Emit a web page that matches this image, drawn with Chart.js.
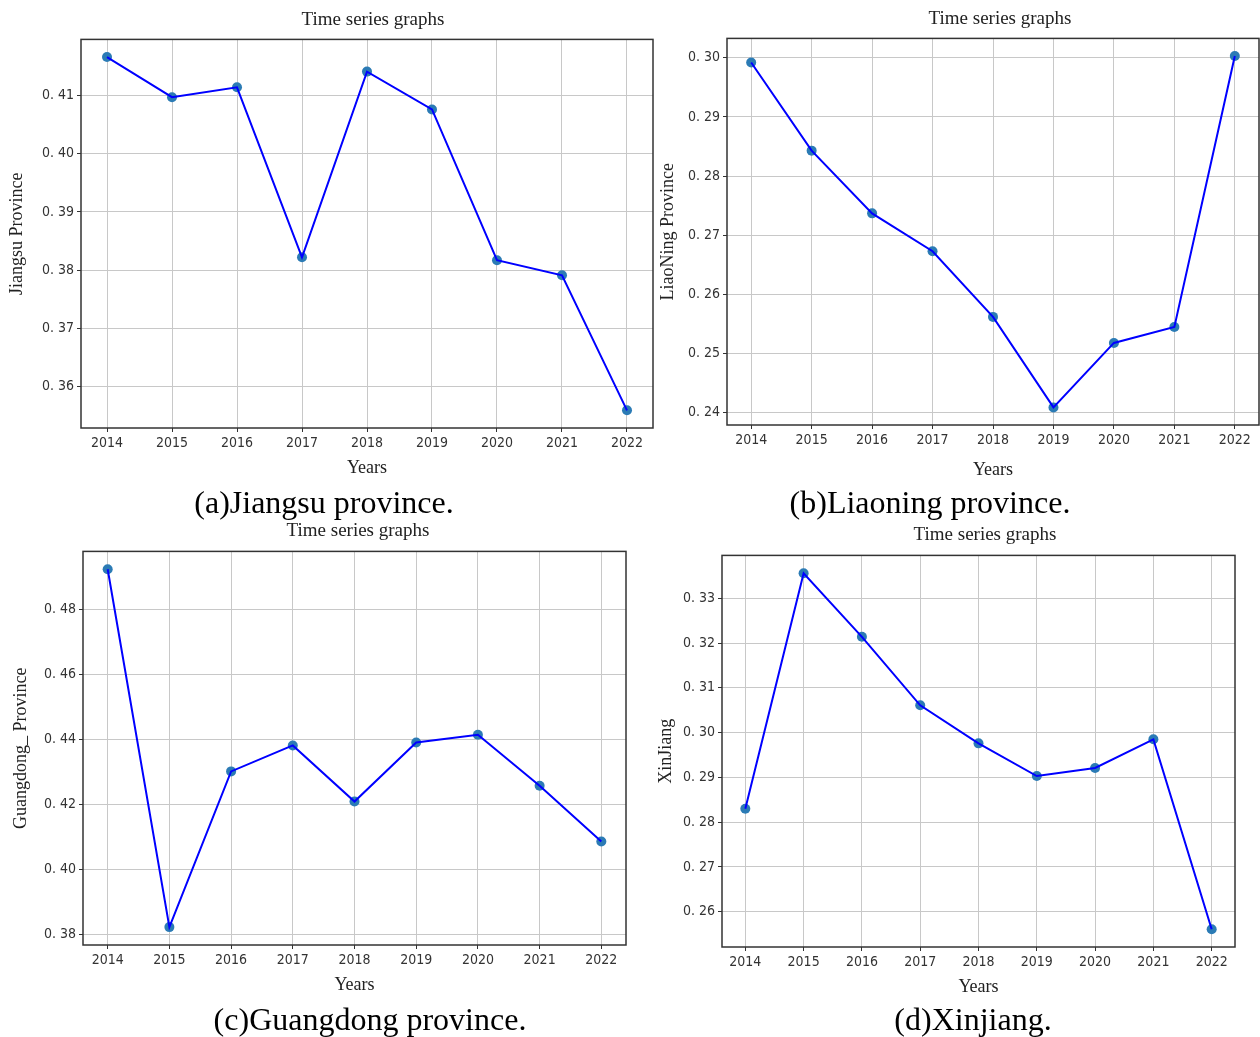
<!DOCTYPE html>
<html>
<head>
<meta charset="utf-8">
<script src="https://cdn.jsdelivr.net/npm/chart.js@4.4.0/dist/chart.umd.min.js"></script>
<style>
  body { margin: 0; background: #fff; width: 1260px; height: 1037px; position: relative; overflow: hidden; }
  .box { position: absolute; }
  .label { position: absolute; transform: translate(-50%, -50%); white-space: nowrap; line-height: 1;
           font-family: 'Liberation Serif', 'Times New Roman', serif; }
  .title { font-size: 19px; color: #222; }
  .cap { font-size: 32px; color: #000; }
</style>
</head>
<body>
<script>
// ---- data ----
const years = [2014, 2015, 2016, 2017, 2018, 2019, 2020, 2021, 2022];
const jiangsu   = [0.4166, 0.4097, 0.4114, 0.3822, 0.4141, 0.4076, 0.3817, 0.3791, 0.3559];
const liaoning  = [0.2992, 0.2843, 0.2737, 0.2673, 0.2562, 0.2409, 0.2518, 0.2545, 0.3003];
const guangdong = [0.4925, 0.3822, 0.4302, 0.4382, 0.4209, 0.4391, 0.4415, 0.4258, 0.4086];
const xinjiang  = [0.2830, 0.3356, 0.3214, 0.3061, 0.2976, 0.2903, 0.2921, 0.2985, 0.2561];

const yLabels  = ['Jiangsu Province', 'LiaoNing Province', 'Guangdong_ Province', 'XinJiang'];
const captions = ['(a)Jiangsu province.', '(b)Liaoning province.', '(c)Guangdong province.', '(d)Xinjiang.'];
const series   = [jiangsu, liaoning, guangdong, xinjiang];
const ySteps   = [0.01, 0.01, 0.02, 0.01];

// ---- layout (plot box: left, top, right, bottom) ----
const layout = [
  { plot: [80.7, 38.3, 652.7, 428.3],  title: [373, 18],  cap: [324, 502],  yTitleX: 17,  xTitleGap: 40 },
  { plot: [726.7, 36.7, 1259, 424.3],  title: [1000, 17], cap: [930, 502],  yTitleX: 668, xTitleGap: 45 },
  { plot: [83.3, 550, 626.7, 945],     title: [358, 529], cap: [370, 1019], yTitleX: 22,  xTitleGap: 40 },
  { plot: [722.3, 554.3, 1235, 947.7], title: [985, 533], cap: [973, 1019], yTitleX: 667, xTitleGap: 40 }
];

const Y_W = 80, X_H = 60, PAD_TOP = 10, PAD_RIGHT = 4;
const serif = "'Liberation Serif', 'Times New Roman', serif";
const axisTitleSize = 18;
const tickFont = { family: "'DejaVu Sans Condensed', 'Liberation Sans Narrow', 'DejaVu Sans', sans-serif", size: 14 };

// frame around the plot area, like matplotlib spines
const frame = {
  id: 'frame',
  afterDraw(chart) {
    const { ctx, chartArea: a } = chart;
    ctx.save();
    ctx.strokeStyle = '#333';
    ctx.lineWidth = 1.5;
    ctx.strokeRect(a.left, a.top, a.right - a.left, a.bottom - a.top);
    ctx.restore();
  }
};

function addLabel(text, pos, cls) {
  const d = document.createElement('div');
  d.className = 'label ' + cls;
  d.textContent = text;
  d.style.left = pos[0] + 'px';
  d.style.top = pos[1] + 'px';
  document.body.appendChild(d);
}

series.forEach((values, i) => {
  const L = layout[i];
  const [pl, pt, pr, pb] = L.plot;
  const w = Math.round(pr - pl + Y_W + PAD_RIGHT);
  const h = Math.round(pb - pt + PAD_TOP + X_H);

  const box = document.createElement('div');
  box.className = 'box';
  box.style.left = (pl - Y_W) + 'px';
  box.style.top = (pt - PAD_TOP) + 'px';
  const cv = document.createElement('canvas');
  cv.width = w; cv.height = h;
  box.appendChild(cv);
  document.body.appendChild(box);

  addLabel('Time series graphs', L.title, 'title');
  addLabel(captions[i], L.cap, 'cap');

  // matplotlib style 5% margins
  const lo = Math.min(...values), hi = Math.max(...values);
  const m = (hi - lo) * 0.05;
  const pts = years.map((yr, k) => ({ x: yr, y: values[k] }));
  const halfLine = axisTitleSize * 1.2 / 2;

  new Chart(cv, {
    type: 'line',
    data: {
      datasets: [
        { data: pts, borderColor: '#0000ff', borderWidth: 2, pointRadius: 0, fill: false, tension: 0 },
        { data: pts, showLine: false, pointRadius: 5, pointBackgroundColor: '#2b7bb5', pointBorderWidth: 0 }
      ]
    },
    options: {
      responsive: false,
      animation: false,
      devicePixelRatio: 1,
      layout: { autoPadding: false, padding: { top: PAD_TOP, right: PAD_RIGHT, left: 0, bottom: 0 } },
      plugins: { legend: { display: false }, tooltip: { enabled: false } },
      scales: {
        x: {
          type: 'linear',
          min: years[0] - 0.4,
          max: years[years.length - 1] + 0.4,
          afterFit(s) { s.height = X_H; },
          border: { display: false },
          grid: { color: '#c8c8c8', lineWidth: 1, tickColor: '#333', tickLength: 4 },
          ticks: { stepSize: 1, includeBounds: false, padding: 3, color: '#333', font: tickFont,
                   maxRotation: 0, autoSkip: false, callback: v => String(v) },
          title: { display: true, text: 'Years', color: '#222', font: { family: serif, size: axisTitleSize },
                   padding: { top: 0, bottom: X_H - L.xTitleGap - halfLine } }
        },
        y: {
          type: 'linear',
          min: lo - m,
          max: hi + m,
          afterFit(s) { s.width = Y_W; },
          border: { display: false },
          grid: { color: '#c8c8c8', lineWidth: 1, tickColor: '#333', tickLength: 4 },
          ticks: { stepSize: ySteps[i], includeBounds: false, padding: 3, color: '#333', font: tickFont,
                   callback: v => v.toFixed(2).replace('.', '. ') },
          title: { display: true, text: yLabels[i], color: '#222', font: { family: serif, size: axisTitleSize },
                   padding: { top: L.yTitleX - (pl - Y_W) - halfLine, bottom: 0 } }
        }
      }
    },
    plugins: [frame]
  });
});
</script>
</body>
</html>
